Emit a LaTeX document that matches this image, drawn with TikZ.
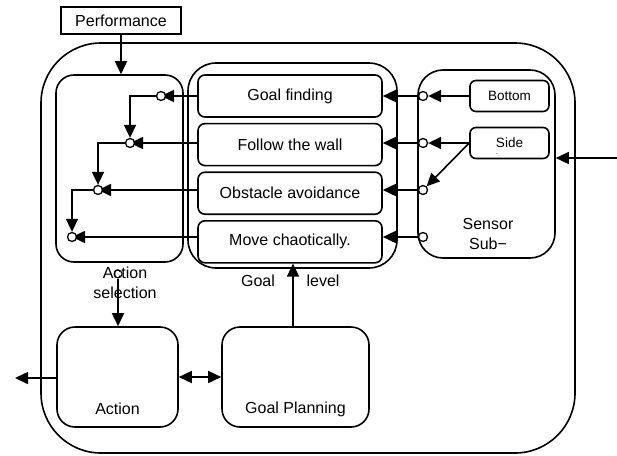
\documentclass[tikz,border=0pt]{standalone}
\usepackage{fontspec}
\setmainfont{Liberation Sans}
\usetikzlibrary{arrows.meta,positioning}

\begin{document}
\begin{tikzpicture}[x=1pt, y=-1pt, node distance=5pt,
  font=\fontsize{16}{20}\selectfont,
  every node/.style={inner sep=0pt},
  block/.style={rectangle,draw,line width=1.6pt,rounded corners=#1},
  block/.default=18pt,
  behav/.style={block=7pt,minimum width=184pt,minimum height=42pt},
  sense/.style={block=6pt,minimum width=79pt,minimum height=31pt,font=\fontsize{13.5}{15}\selectfont},
  junc/.style={circle,draw,line width=1.3pt,fill=white,minimum size=9pt},
  line/.style={draw,line width=1.6pt,-{Triangle[length=13pt,width=12pt]}},
  dline/.style={draw,line width=1.6pt,{Triangle[length=13pt,width=12pt]}-{Triangle[length=13pt,width=12pt]}}]
  \useasboundingbox (0,0) rectangle (617,455);

  \node[block=60pt,minimum width=534pt,minimum height=410pt] (system) at (308,248) {};
  \node[draw,line width=1.6pt,minimum width=120pt,minimum height=27pt] (perf) at (121,20.5) {Performance};

  \node[block,minimum width=127pt,minimum height=187pt] (actsel) at (119.5,168.5) {};
  \node[block=28pt,minimum width=209pt,minimum height=205pt] (goallevel) at (292.5,165.5) {};
  \node[block=25pt,minimum width=137pt,minimum height=188pt] (sensor) at (486.5,164) {};

  \node[behav] (goalfind) at (290,96) {Goal finding};
  \node[behav,below=of goalfind] (wall) {Follow the wall};
  \node[behav,below=of wall] (avoid) {Obstacle avoidance};
  \node[behav,below=of avoid] (move) {Move chaotically.};

  \node[sense] (bottom) at (509.5,96) {Bottom};
  \node[sense] (side) at (509.5,143) {Side};
  \node[font=\tiny] (bottomdot) at (508,104) {.};
  \node[font=\tiny] (sidedash) at (497,154.5) {-};

  \node[block,minimum width=121pt,minimum height=100pt] (action) at (117.5,377) {};
  \node[block,minimum width=147pt,minimum height=100pt] (planning) at (295.5,377) {};

  \node[align=center] (sellbl) at (125,282.5) {Action\\selection};
  \node (goallbl) at (258,281) {Goal};
  \node (levellbl) at (323,281) {level};
  \node[align=center] (sensorlbl) at (488,234) {Sensor\\Sub−};
  \node (actionlbl) at (117.5,409) {Action};
  \node (planlbl) at (295.5,409) {Goal Planning};

  \coordinate (sensin) at (617,158);
  \coordinate (actout) at (15,378);

  % behaviours into action selection
  \draw[line] (move.west |- 0,237) -- (72,237);
  \draw[line] (avoid.west |- 0,190) -- (98,190);
  \draw[line] (wall.west |- 0,143) -- (130,143);
  \draw[line] (goalfind.west |- 0,96) -- (161,96);
  \node[junc] (a1) at (161,96) {};
  \node[junc] (a2) at (130,143) {};
  \node[junc] (a3) at (98,190) {};
  \node[junc] (a4) at (72,237) {};
  \draw[line] (a1) -| (a2);
  \draw[line] (a2) -| (a3);
  \draw[line] (a3) -| (a4);

  % sensors into behaviours
  \node[junc] (s1) at (423,96) {};
  \node[junc] (s2) at (423,143) {};
  \node[junc] (s3) at (423,190) {};
  \node[junc] (s4) at (423,237) {};
  \draw[line] (s1) -- (s1 -| goalfind.east);
  \draw[line] (s2) -- (s2 -| wall.east);
  \draw[line] (s3) -- (s3 -| avoid.east);
  \draw[line] (s4) -- (s4 -| move.east);
  \draw[line] (bottom.west) -- (s1);
  \draw[line] (side.west) -- (s2);
  \draw[line] (side.west) -- (s3);
  \draw[line] (sensin) -- (sensin -| sensor.east);

  \draw[line] (perf.south) -- (perf.south |- actsel.north);
  \node[circle,draw,line width=1pt,minimum size=8pt] (selout) at (118,274) {};
  \draw[line] (selout) -- (selout |- action.north);
  \draw[line] ([xshift=-2.5pt]planning.north) -- ([xshift=-2.5pt]planning.north |- move.south);
  \draw[dline] (action.east) -- (planning.west);
  \draw[line] (action.west |- actout) -- (actout);
\end{tikzpicture}
\end{document}
